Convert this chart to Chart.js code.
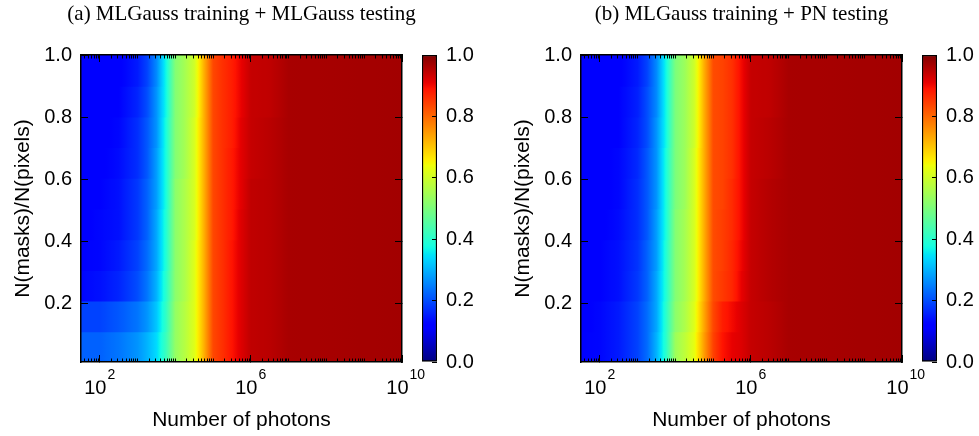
<!DOCTYPE html>
<html>
<head>
<meta charset="utf-8">
<script src="https://cdn.jsdelivr.net/npm/chart.js"></script>
<style>
  html, body { margin: 0; padding: 0; background: #fff; }
  body { width: 979px; height: 436px; position: relative; overflow: hidden; }
  canvas { position: absolute; top: 0; }
</style>
</head>
<body>
<canvas id="mapA" width="483" height="436" style="left:0px"></canvas>
<canvas id="barA" width="79" height="436" style="left:400px"></canvas>
<canvas id="mapB" width="483" height="436" style="left:500px"></canvas>
<canvas id="barB" width="79" height="436" style="left:900px"></canvas>
<script>
// log10(number of photons) of each sampled column
const photonExp = [1.5, 2, 2.5, 3, 3.25, 3.5, 3.75, 4, 4.25, 4.5, 4.75, 5, 5.25, 5.5, 5.75, 6, 6.5, 7, 10];

// N(masks)/N(pixels) bands (centres), bottom to top, 0.01 .. 1.0
const maskRows = ['0.06', '0.16', '0.26', '0.36', '0.46', '0.55', '0.65', '0.75', '0.85', '0.95'];

// (a) MLGauss training + MLGauss testing, one row per mask band (bottom first)
const accGaussGauss = [
    [0.22, 0.22, 0.24, 0.27, 0.30, 0.34, 0.42, 0.53, 0.57, 0.62, 0.72, 0.835, 0.86, 0.89, 0.92, 0.945, 0.95, 0.965, 0.97],
    [0.19, 0.19, 0.21, 0.24, 0.27, 0.32, 0.41, 0.53, 0.57, 0.62, 0.72, 0.835, 0.86, 0.89, 0.92, 0.945, 0.95, 0.965, 0.97],
    [0.13, 0.14, 0.16, 0.20, 0.24, 0.30, 0.40, 0.52, 0.56, 0.62, 0.72, 0.835, 0.86, 0.89, 0.92, 0.945, 0.95, 0.965, 0.97],
    [0.125, 0.13, 0.15, 0.19, 0.23, 0.29, 0.39, 0.52, 0.56, 0.62, 0.72, 0.835, 0.86, 0.89, 0.92, 0.945, 0.95, 0.965, 0.97],
    [0.12, 0.13, 0.14, 0.18, 0.22, 0.29, 0.39, 0.52, 0.56, 0.61, 0.72, 0.835, 0.86, 0.885, 0.92, 0.945, 0.95, 0.965, 0.97],
    [0.12, 0.125, 0.14, 0.18, 0.22, 0.28, 0.38, 0.52, 0.56, 0.61, 0.72, 0.835, 0.86, 0.885, 0.915, 0.945, 0.95, 0.965, 0.97],
    [0.12, 0.12, 0.135, 0.17, 0.21, 0.28, 0.38, 0.51, 0.55, 0.61, 0.72, 0.835, 0.86, 0.885, 0.915, 0.94, 0.95, 0.965, 0.97],
    [0.12, 0.12, 0.13, 0.17, 0.21, 0.27, 0.38, 0.51, 0.55, 0.61, 0.72, 0.835, 0.86, 0.88, 0.915, 0.94, 0.95, 0.965, 0.97],
    [0.12, 0.12, 0.125, 0.16, 0.20, 0.27, 0.37, 0.51, 0.55, 0.60, 0.72, 0.835, 0.86, 0.88, 0.91, 0.94, 0.945, 0.965, 0.97],
    [0.12, 0.12, 0.12, 0.15, 0.19, 0.26, 0.37, 0.51, 0.55, 0.60, 0.72, 0.835, 0.86, 0.88, 0.91, 0.94, 0.945, 0.965, 0.97]
];

// (b) MLGauss training + PN testing
const accGaussPN = [
    [0.125, 0.13, 0.15, 0.19, 0.23, 0.30, 0.40, 0.54, 0.58, 0.63, 0.74, 0.84, 0.89, 0.91, 0.92, 0.94, 0.95, 0.965, 0.97],
    [0.12, 0.13, 0.15, 0.19, 0.23, 0.29, 0.40, 0.52, 0.56, 0.62, 0.73, 0.835, 0.88, 0.90, 0.92, 0.94, 0.95, 0.965, 0.97],
    [0.12, 0.125, 0.14, 0.18, 0.22, 0.29, 0.39, 0.51, 0.55, 0.61, 0.72, 0.83, 0.85, 0.87, 0.91, 0.94, 0.955, 0.965, 0.97],
    [0.12, 0.125, 0.14, 0.175, 0.22, 0.28, 0.39, 0.51, 0.55, 0.61, 0.72, 0.83, 0.845, 0.87, 0.905, 0.94, 0.955, 0.965, 0.97],
    [0.12, 0.12, 0.135, 0.17, 0.21, 0.28, 0.38, 0.51, 0.55, 0.61, 0.72, 0.83, 0.845, 0.865, 0.90, 0.94, 0.955, 0.965, 0.97],
    [0.12, 0.12, 0.13, 0.17, 0.21, 0.27, 0.38, 0.50, 0.54, 0.61, 0.72, 0.83, 0.84, 0.865, 0.90, 0.94, 0.955, 0.965, 0.97],
    [0.12, 0.12, 0.13, 0.165, 0.21, 0.27, 0.38, 0.50, 0.54, 0.61, 0.72, 0.83, 0.84, 0.86, 0.90, 0.94, 0.95, 0.965, 0.97],
    [0.12, 0.12, 0.125, 0.16, 0.20, 0.27, 0.37, 0.50, 0.54, 0.60, 0.72, 0.83, 0.84, 0.86, 0.90, 0.94, 0.95, 0.965, 0.97],
    [0.12, 0.12, 0.125, 0.155, 0.20, 0.26, 0.37, 0.50, 0.54, 0.60, 0.72, 0.83, 0.84, 0.86, 0.90, 0.94, 0.945, 0.965, 0.97],
    [0.12, 0.12, 0.12, 0.15, 0.19, 0.26, 0.37, 0.50, 0.54, 0.60, 0.72, 0.83, 0.84, 0.86, 0.90, 0.94, 0.945, 0.965, 0.97]
];

// tick labels
const xTickExp = [2, 6, 10];
const yTicks = [0.2, 0.4, 0.6, 0.8, 1.0];
const cbarTicks = [0.0, 0.2, 0.4, 0.6, 0.8, 1.0];

// jet colormap anchors (value, level)
const jetRed = [[0, 0], [0.35, 0], [0.66, 1], [0.89, 1], [1, 0.5]];
const jetGreen = [[0, 0], [0.125, 0], [0.375, 1], [0.64, 1], [0.91, 0], [1, 0]];
const jetBlue = [[0, 0.5], [0.11, 1], [0.34, 1], [0.65, 0], [1, 0]];

Chart.defaults.font.family = "'Liberation Sans', Arial, sans-serif";
Chart.defaults.color = '#000';

function channel(pts, v) {
    for (let i = 0; i < pts.length - 1; i++) {
        if (v <= pts[i + 1][0]) {
            const t = (v - pts[i][0]) / (pts[i + 1][0] - pts[i][0]);
            return pts[i][1] + (pts[i + 1][1] - pts[i][1]) * t;
        }
    }
    return pts[pts.length - 1][1];
}

function jet(v) {
    v = Math.min(1, Math.max(0, v));
    const r = Math.round(channel(jetRed, v) * 255);
    const g = Math.round(channel(jetGreen, v) * 255);
    const b = Math.round(channel(jetBlue, v) * 255);
    return `rgb(${r},${g},${b})`;
}

// minor log ticks (2..9 x 10^n, plus the unlabeled decades)
const minorExp = [];
for (let n = 1; n <= 9; n++) {
    for (let k = 1; k <= 9; k++) {
        const e = n + Math.log10(k);
        if (k === 1 && xTickExp.includes(n)) continue;
        if (e >= 1.5 && e <= 10) minorExp.push(e);
    }
}

function rowGradient(ctx, rows) {
    const chart = ctx.chart;
    if (!chart.chartArea || ctx.dataIndex === undefined) return 'rgba(0,0,0,0)';
    const vals = rows[ctx.dataIndex];
    const xs = chart.scales.x;
    const x0 = xs.getPixelForValue(photonExp[0]);
    const x1 = xs.getPixelForValue(photonExp[photonExp.length - 1]);
    const g = chart.ctx.createLinearGradient(x0, 0, x1, 0);
    const steps = 8;
    for (let i = 0; i < photonExp.length - 1; i++) {
        for (let s = 0; s < steps; s++) {
            const t = s / steps;
            const px = xs.getPixelForValue(photonExp[i] + (photonExp[i + 1] - photonExp[i]) * t);
            g.addColorStop((px - x0) / (x1 - x0), jet(vals[i] + (vals[i + 1] - vals[i]) * t));
        }
    }
    g.addColorStop(1, jet(vals[vals.length - 1]));
    return g;
}

function cbarGradient(ctx) {
    const chart = ctx.chart;
    if (!chart.chartArea) return 'rgba(0,0,0,0)';
    const ys = chart.scales.y;
    const g = chart.ctx.createLinearGradient(0, ys.getPixelForValue(0), 0, ys.getPixelForValue(1));
    for (let i = 0; i <= 100; i++) {
        g.addColorStop(i / 100, jet(i / 100));
    }
    return g;
}

const tickFont = { size: 20 };
const expFont = { size: 14 };
const titleFont = { size: 21 };

function fixedTicks(list) {
    return s => { s.ticks = list.map(v => ({ value: v })); };
}

// an axis that only draws inward tick marks
function tickAxis(position, list, len, extra) {
    const horiz = position === 'top' || position === 'bottom';
    return Object.assign({
        type: 'linear', position,
        min: horiz ? 1.5 : 0.01, max: horiz ? 10 : 1.0, offset: false,
        afterBuildTicks: fixedTicks(list),
        afterFit: s => { if (horiz) s.height = 0; else s.width = 0; },
        ticks: { display: false },
        grid: { drawOnChartArea: false, offset: false, tickLength: -len, tickColor: '#000', tickWidth: 1, z: 1 },
        border: { color: '#000', width: 1.5, z: 1 }
    }, extra || {});
}

const noMarks = { display: false, drawTicks: false };

function makeMap(id, title, rows) {
    return new Chart(document.getElementById(id), {
        type: 'bar',
        data: {
            labels: maskRows,
            datasets: [{
                data: rows.map(() => [photonExp[0], photonExp[photonExp.length - 1]]),
                backgroundColor: ctx => rowGradient(ctx, rows),
                borderWidth: 0,
                inflateAmount: 1,
                barPercentage: 1,
                categoryPercentage: 1,
                xAxisID: 'x',
                yAxisID: 'rows'
            }]
        },
        options: {
            indexAxis: 'y',
            responsive: false,
            animation: false,
            events: [],
            plugins: {
                legend: { display: false },
                tooltip: { enabled: false },
                title: {
                    display: true,
                    text: title,
                    color: '#000',
                    font: { family: "'Liberation Serif', 'Times New Roman', serif", size: 21, weight: 'normal' },
                    padding: { top: 1.4, bottom: 28.4 }
                }
            },
            scales: {
                rows: { type: 'category', axis: 'y', position: 'left', display: false, reverse: true, offset: true },
                xMinor: tickAxis('bottom', minorExp, 3.5, { weight: 0, border: { display: false } }),
                xMajor: tickAxis('bottom', xTickExp, 7, { weight: 1 }),
                // exponent part of the 10^n labels
                xExp: tickAxis('bottom', xTickExp, 0, {
                    weight: 2,
                    afterFit: s => { s.height = 18.5; },
                    ticks: { display: true, callback: v => String(v), font: expFont, color: '#000', padding: 5, align: 'start', labelOffset: 7.5, maxRotation: 0, autoSkip: false },
                    grid: noMarks,
                    border: { display: false }
                }),
                x: tickAxis('bottom', xTickExp, 0, {
                    weight: 3,
                    afterFit: s => { s.height = 55.5; },
                    ticks: { display: true, callback: () => '10', font: tickFont, color: '#000', padding: -4.5, align: 'end', labelOffset: 6.5, maxRotation: 0, autoSkip: false },
                    grid: noMarks,
                    border: { display: false },
                    title: { display: true, text: 'Number of photons', font: titleFont, color: '#000', padding: { top: 0, bottom: 2.9 } }
                }),
                xTop: tickAxis('top', xTickExp, 7),
                xTopMinor: tickAxis('top', minorExp, 3.5, { border: { display: false } }),
                y: tickAxis('left', yTicks, 7, {
                    afterFit: s => { s.width = 81; },
                    ticks: { display: true, callback: v => v.toFixed(1), font: tickFont, color: '#000', padding: 16 },
                    title: { display: true, text: 'N(masks)/N(pixels)', font: titleFont, color: '#000', padding: { top: 10.4, bottom: 0 } }
                }),
                yRight: tickAxis('right', yTicks, 7, { afterFit: s => { s.width = 81; } })
            }
        }
    });
}

function makeColorbar(id) {
    return new Chart(document.getElementById(id), {
        type: 'bar',
        data: {
            labels: [''],
            datasets: [{
                data: [[cbarTicks[0], cbarTicks[cbarTicks.length - 1]]],
                backgroundColor: cbarGradient,
                borderColor: '#000',
                borderWidth: 1.5,
                borderSkipped: false,
                barPercentage: 1,
                categoryPercentage: 1
            }]
        },
        options: {
            responsive: false,
            animation: false,
            events: [],
            layout: { padding: { left: 22, top: 55, bottom: 74 } },
            plugins: { legend: { display: false }, tooltip: { enabled: false } },
            scales: {
                x: { display: false },
                y: {
                    position: 'right', min: 0, max: 1,
                    afterBuildTicks: fixedTicks(cbarTicks),
                    afterFit: s => { s.width = 42; },
                    ticks: { callback: v => v.toFixed(1), font: tickFont, color: '#000', padding: 14 },
                    grid: { drawOnChartArea: false, offset: false, tickLength: -5, tickColor: '#000', tickWidth: 1, z: 1 },
                    border: { display: false }
                }
            }
        }
    });
}

makeMap('mapA', '(a) MLGauss training + MLGauss testing', accGaussGauss);
makeColorbar('barA');
makeMap('mapB', '(b) MLGauss training + PN testing', accGaussPN);
makeColorbar('barB');
</script>
</body>
</html>
